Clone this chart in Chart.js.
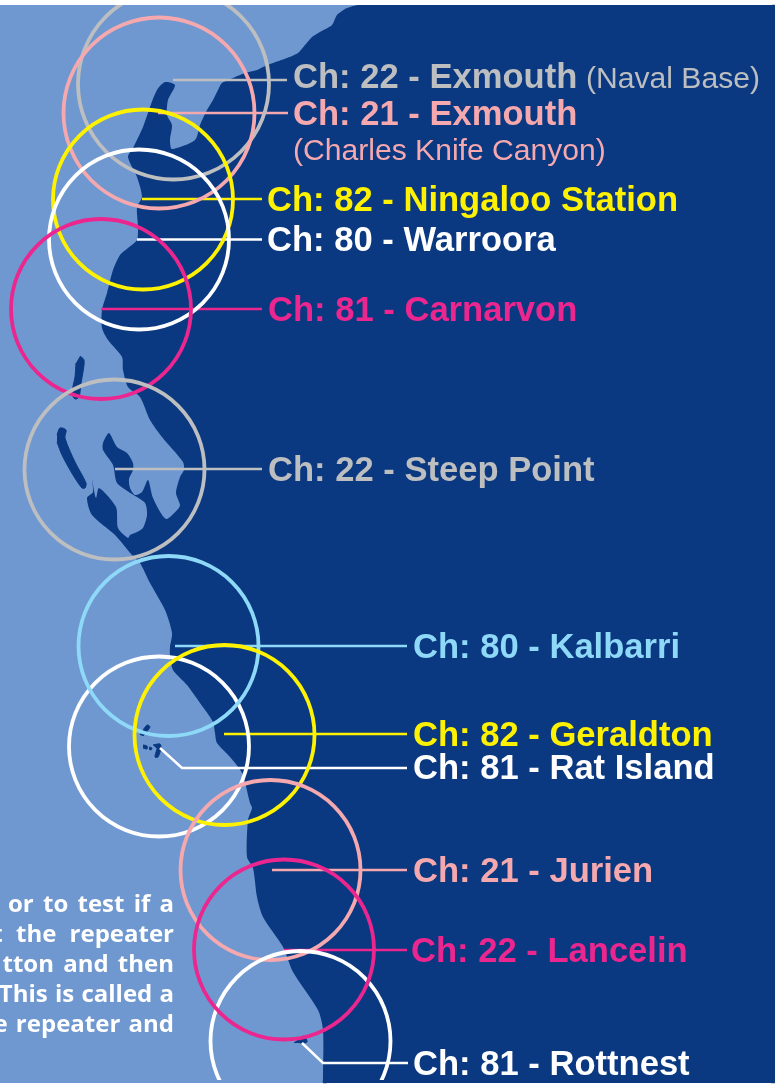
<!DOCTYPE html>
<html>
<head>
<meta charset="utf-8">
<title>Repeater coverage</title>
<script src="https://cdn.jsdelivr.net/npm/chart.js@4"></script>
<style>
  html, body { margin: 0; padding: 0; background: #fff; }
  canvas { display: block; }
</style>
</head>
<body>
<canvas id="mapChart" width="775" height="1084"></canvas>
<script>
// Map outlines, in picture units
const seaOutline = [[0, 5], [775, 5], [775, 1083], [0, 1083]];

const landOutline = [
    [358, 5], [347, 8], [337, 15], [332, 25], [320, 32], [312, 37], [305, 45], [298, 53], [287, 58],
    [273, 63], [263, 67], [257, 70], [245, 73], [233, 78], [222, 83], [218, 90], [213, 100], [207, 110],
    [200, 125], [195, 140], [172, 149], [170, 140], [172, 125], [167, 115], [168, 100], [175, 85],
    [165, 82], [157, 90], [150, 107], [143, 127], [133, 148], [128, 157], [137, 177], [142, 197],
    [137, 207], [138, 227], [137, 240], [128, 248], [120, 255], [113, 270], [107, 293], [102, 310],
    [102, 328], [108, 340], [122, 357], [123, 370], [128, 387], [140, 397], [150, 420], [162, 437],
    [183, 462], [184, 470], [180, 477], [176, 493], [180, 505], [178, 509], [166, 519], [153, 498],
    [148, 480], [142, 492], [135, 495], [130, 488], [129, 479], [133, 470], [133, 463], [127, 453],
    [117, 447], [109, 433], [103, 443], [103, 450], [113, 465], [117, 483], [132, 494], [145, 503],
    [147, 515], [143, 528], [137, 532], [130, 535], [128, 538], [118, 528], [116, 507], [99, 488],
    [96, 498], [92, 480], [93, 492], [87, 498], [92, 515], [115, 535], [132, 555], [140, 563],
    [150, 583], [165, 610], [172, 633], [170, 647], [170, 655], [173, 670], [187, 685], [200, 703],
    [213, 722], [215, 733], [217, 743], [230, 757], [242, 773], [250, 803], [252, 808], [248, 820],
    [247, 857], [253, 868], [257, 897], [263, 917], [283, 947], [293, 972], [318, 1010], [323, 1030],
    [323, 1078], [323, 1083], [328, 1083], [770, 1083], [775, 1083], [775, 1078], [775, 10], [775, 5], [770, 5], [363, 5]
];

const dirkHartog = [[57, 435], [60, 428], [66, 430], [65, 438], [75, 462], [86, 483], [85, 488], [82, 488], [73, 475], [62, 455], [57, 442]];
const bernier = [[80, 356], [84, 360], [83, 372], [81, 383], [79, 397], [75, 399], [72, 393], [75, 377], [76, 363]];
const abrolhosNorth = [[140, 735], [147, 725], [150, 727], [143, 736]];
const abrolhosWest = [[143, 745], [147, 746], [147, 749], [143, 748]];
const abrolhosDot = [[149, 747], [152, 748], [151, 750], [149, 749]];
const abrolhosHook = [[153, 745], [160, 744], [161, 748], [158, 757], [155, 757], [157, 749]];
const rottnest = [[294, 1043], [301, 1038], [304, 1036], [307, 1042], [300, 1043]];
const islands = [dirkHartog, bernier, abrolhosNorth, abrolhosWest, abrolhosDot, abrolhosHook, rottnest];

// Stations, listed bottom to top of the stack
const channels = ['Ch: 22', 'Ch: 21', 'Ch: 82', 'Ch: 80', 'Ch: 81', 'Ch: 22', 'Ch: 81', 'Ch: 80', 'Ch: 82', 'Ch: 21', 'Ch: 81', 'Ch: 22'];
const places = ['Exmouth', 'Exmouth', 'Ningaloo Station', 'Warroora', 'Carnarvon', 'Steep Point', 'Rat Island', 'Kalbarri', 'Geraldton', 'Jurien', 'Rottnest', 'Lancelin'];
const circleX = [173.5, 159, 143, 139, 101, 114.5, 159, 168.5, 224.5, 270.5, 300.5, 284];
const circleY = [84, 113, 199.5, 239.5, 309, 469.5, 746.5, 646, 735, 870, 1041, 949.5];
const circleR = [95.5, 95.5, 90, 90, 90, 90, 90, 90, 90, 90, 90, 90];
const labelX = [293, 293, 267, 267, 268, 268, 413, 413, 413, 413, 413, 411];
const labelY = [88, 125, 211, 251, 321, 481, 779, 658, 746, 882, 1075, 962];
const stationColors = ['#bcbec0', '#f5a9ae', '#fff200', '#ffffff', '#ec268f', '#bcbec0', '#ffffff', '#8ed8f8', '#fff200', '#f5a9ae', '#ffffff', '#ec268f'];
const leaders = [
    [[173, 80], [287, 80]],
    [[158, 113], [288, 113]],
    [[142, 199], [262, 199]],
    [[137, 239.5], [262, 239.5]],
    [[101, 309], [262, 309]],
    [[115, 469], [262, 469]],
    [[160, 748], [182, 768], [407, 768]],
    [[175, 646], [407, 646]],
    [[224, 734], [407, 734]],
    [[272, 870], [407, 870]],
    [[302, 1043], [323, 1063], [408, 1063]],
    [[284, 950], [407, 950]]
];

// Smaller notes after a station name
const noteTexts = ['(Naval Base)', '(Charles Knife Canyon)'];
const noteX = [586, 293];
const noteY = [88, 160];
const noteColors = ['#bcbec0', '#f5a9ae'];

// Cut-off paragraph, bottom left
const paragraphLines = ['or to test if a', 't the repeater', 'tton and then', 'This is called a', 'e repeater and'];
const paragraphY = [912, 942, 972, 1002, 1032];
const paragraphSpacing = [3, 7, 3, 1, 2];

// The map fills the whole canvas, so no room is kept around the marks
Chart.BubbleController.prototype.getMaxOverflow = () => 0;
Chart.ScatterController.prototype.getMaxOverflow = () => 0;

function toPoints(list) {
    return list.map(p => ({ x: p[0], y: p[1] }));
}

function shapeDataset(list, color, order, tension, border) {
    return {
        type: 'scatter',
        data: toPoints(list),
        showLine: true,
        fill: 'shape',
        backgroundColor: color,
        borderColor: color,
        borderWidth: border,
        tension: tension,
        pointRadius: 0,
        order: order
    };
}

const datasets = [];
datasets.push(shapeDataset(seaOutline, '#7098d0', 50, 0, 0));
datasets.push(shapeDataset(landOutline, '#0a3981', 40, 0.25, 0));
islands.forEach(s => datasets.push(shapeDataset(s, '#0a3981', 30, 0.3, 1)));

leaders.forEach((l, i) => {
    datasets.push({
        type: 'scatter',
        data: toPoints(l),
        showLine: true,
        fill: false,
        borderColor: stationColors[i],
        borderWidth: 2.5,
        pointRadius: 0,
        order: 20 - i * 0.1
    });
});

datasets.push({
    type: 'bubble',
    data: circleX.map((x, i) => ({ x: x, y: circleY[i], r: circleR[i] })),
    backgroundColor: 'transparent',
    borderColor: stationColors,
    borderWidth: 3.8,
    clip: { left: 0, top: -5, right: 0, bottom: -4 },
    order: 10
});

// Station names and the paragraph, as text on the canvas
const textPlugin = {
    id: 'mapText',
    afterDatasetsDraw(chart) {
        const ctx = chart.ctx;
        const xs = chart.scales.x;
        const ys = chart.scales.y;
        ctx.save();
        ctx.textBaseline = 'alphabetic';
        ctx.textAlign = 'left';
        ctx.font = 'bold 34.6px "Liberation Sans", Arial, sans-serif';
        places.forEach((place, i) => {
            ctx.fillStyle = stationColors[i];
            ctx.fillText(channels[i] + ' - ' + place, xs.getPixelForValue(labelX[i]), ys.getPixelForValue(labelY[i]));
        });
        ctx.font = '30.1px "Liberation Sans", Arial, sans-serif';
        noteTexts.forEach((t, i) => {
            ctx.fillStyle = noteColors[i];
            ctx.fillText(t, xs.getPixelForValue(noteX[i]), ys.getPixelForValue(noteY[i]));
        });
        ctx.font = 'bold 24px "Open Sans", sans-serif';
        ctx.textAlign = 'right';
        ctx.fillStyle = '#ffffff';
        paragraphLines.forEach((t, i) => {
            ctx.wordSpacing = paragraphSpacing[i] + 'px';
            ctx.fillText(t, xs.getPixelForValue(174), ys.getPixelForValue(paragraphY[i]));
        });
        ctx.restore();
    }
};

new Chart(document.getElementById('mapChart').getContext('2d'), {
    type: 'scatter',
    data: { datasets: datasets },
    options: {
        responsive: false,
        animation: false,
        events: [],
        layout: { padding: 0 },
        scales: {
            x: { type: 'linear', min: 0, max: 775, display: false },
            y: { type: 'linear', min: 0, max: 1084, reverse: true, display: false }
        },
        plugins: {
            legend: { display: false },
            tooltip: { enabled: false }
        }
    },
    plugins: [textPlugin]
});
</script>
</body>
</html>
